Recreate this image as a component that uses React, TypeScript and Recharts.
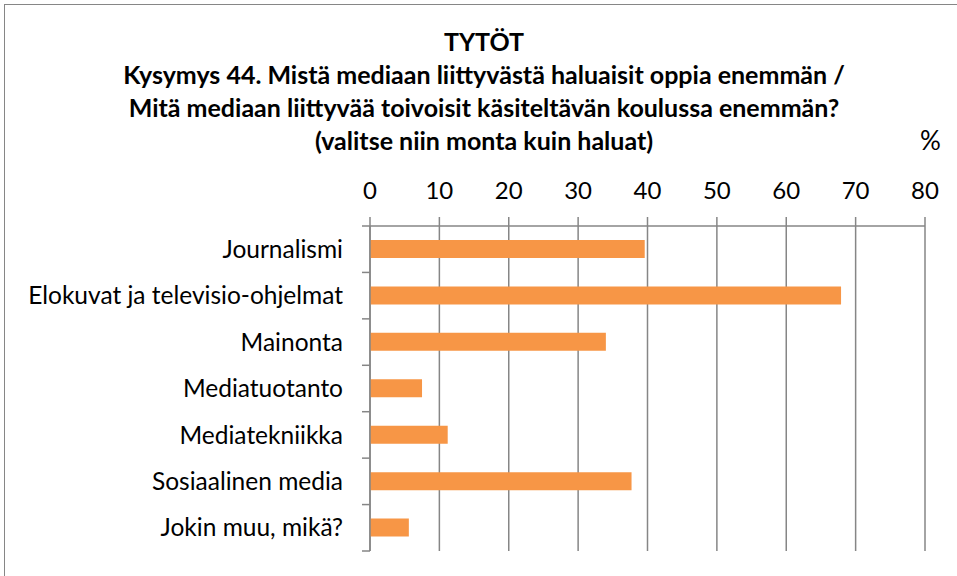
import React from 'react';
import { BarChart, Bar, XAxis, YAxis, CartesianGrid } from 'recharts';

const categories = [
  'Journalismi',
  'Elokuvat ja televisio-ohjelmat',
  'Mainonta',
  'Mediatuotanto',
  'Mediatekniikka',
  'Sosiaalinen media',
  'Jokin muu, mikä?',
];
const percentages = [39.6, 67.9, 34.0, 7.5, 11.2, 37.7, 5.6];
const xTicks = [0, 10, 20, 30, 40, 50, 60, 70, 80];
const titleLines = [
  'TYTÖT',
  'Kysymys 44. Mistä mediaan liittyvästä haluaisit oppia enemmän /',
  'Mitä mediaan liittyvää toivoisit käsiteltävän koulussa enemmän?',
  '(valitse niin monta kuin haluat)',
];

const FONT = 'Lato, "Open Sans", sans-serif';
const AXIS_GRAY = '#868686';
const BAR_ORANGE = '#F79646';
const Y_TICK = 8;
const Y_GAP = 19;

const data = categories.map((name, i) => ({ name, value: percentages[i] }));

function CategoryTick(props: any) {
  const { x, y, payload, index, visibleTicksCount } = props;
  const half = payload.offset ?? 0;
  const axisX = x + Y_GAP + Y_TICK;
  const isLast = index === visibleTicksCount - 1;
  return (
    <g>
      <line x1={axisX - Y_TICK} x2={axisX} y1={y - half} y2={y - half} stroke={AXIS_GRAY} strokeWidth={1.5} />
      {isLast && (
        <line x1={axisX - Y_TICK} x2={axisX} y1={y + half} y2={y + half} stroke={AXIS_GRAY} strokeWidth={1.5} />
      )}
      <text x={x} y={y} dy="0.35em" textAnchor="end" fill="#000" fontSize={24.5} fontFamily={FONT}>
        {payload.value}
      </text>
    </g>
  );
}

export default function App() {
  return (
    <div style={{ position: 'absolute', left: 0, top: 0, width: 957, height: 576, overflow: 'hidden', background: '#fff' }}>
      <div
        style={{
          position: 'absolute',
          left: 4,
          top: 4,
          width: 1000,
          height: 1000,
          borderLeft: `1.5px solid ${AXIS_GRAY}`,
          borderTop: `1.5px solid ${AXIS_GRAY}`,
        }}
      />
      <div
        style={{
          position: 'absolute',
          left: 0,
          top: 25,
          width: 968,
          textAlign: 'center',
          fontFamily: FONT,
          fontWeight: 700,
          fontSize: 25,
          lineHeight: '33px',
          color: '#000',
          whiteSpace: 'nowrap',
        }}
      >
        {titleLines.map(line => (
          <div key={line}>{line}</div>
        ))}
      </div>
      <div
        style={{
          position: 'absolute',
          left: 920,
          top: 125,
          fontFamily: FONT,
          fontSize: 26,
          lineHeight: '30px',
          color: '#000',
        }}
      >
        %
      </div>
      <div style={{ position: 'absolute', left: 0, top: 0 }}>
        <BarChart
          width={957}
          height={576}
          data={data}
          layout="vertical"
          margin={{ top: 186, right: 32, bottom: 25, left: 0 }}
        >
          <CartesianGrid horizontal={false} stroke={AXIS_GRAY} strokeWidth={1.5} />
          <XAxis
            type="number"
            orientation="top"
            domain={[0, 80]}
            ticks={xTicks}
            height={40}
            tickSize={9}
            tickMargin={18}
            axisLine={{ stroke: AXIS_GRAY, strokeWidth: 1.5 }}
            tickLine={{ stroke: AXIS_GRAY, strokeWidth: 1.5 }}
            tick={{ fill: '#000', fontSize: 24, fontFamily: FONT }}
          />
          <YAxis
            type="category"
            dataKey="name"
            width={370}
            tickSize={Y_TICK}
            tickMargin={Y_GAP}
            tickLine={false}
            axisLine={{ stroke: AXIS_GRAY, strokeWidth: 1.5 }}
            tick={<CategoryTick />}
          />
          <Bar dataKey="value" fill={BAR_ORANGE} barSize={18} isAnimationActive={false} />
        </BarChart>
      </div>
    </div>
  );
}
